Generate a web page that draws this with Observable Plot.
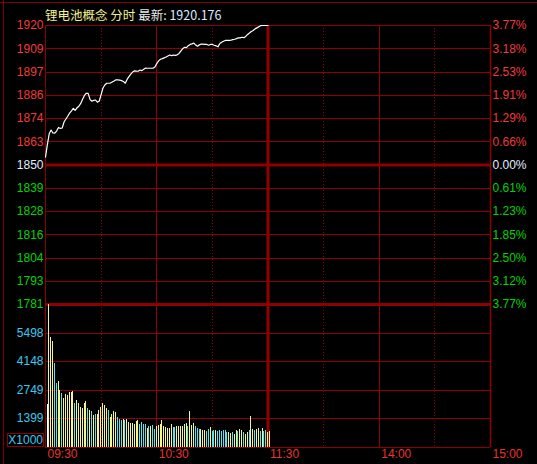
<!DOCTYPE html>
<html><head><meta charset="utf-8">
<script src="https://cdn.jsdelivr.net/npm/d3@7"></script>
<script src="https://cdn.jsdelivr.net/npm/@observablehq/plot@0.6"></script>
<style>
html,body{margin:0;padding:0;background:#000;}
#wrap{position:relative;width:537px;height:464px;background:#000;overflow:hidden;}
#wrap svg{position:absolute;left:0;top:0;}
#title{position:absolute;left:45px;top:8px;height:14px;line-height:14px;font-size:12.5px;font-family:"Noto Sans CJK SC","Noto Sans",sans-serif;white-space:nowrap;}
#unit{position:absolute;left:7px;top:433px;width:35px;height:12px;border:1px solid #900000;color:#3cc8f0;font:12px "Liberation Sans",Arial,sans-serif;line-height:12px;text-align:right;padding-right:0px;}
.edge{position:absolute;background:#800000;}
</style>
</head><body>
<div id="wrap"></div>
<script>
// ---- data ----
const titleName = "锂电池概念 分时";
const titleLastLabel = "最新:";
const lastPrice = "1920.176";
const prevClose = 1850.4;

// one price per minute, 09:30 .. 11:30
const priceValues = [
  1854.3,1860.6,1866.0,1867.9,1866.4,1866.3,1867.4,1869.2,1868.7,1868.9,
  1871.9,1873.4,1874.8,1876.4,1877.5,1878.7,1877.7,1879.0,1879.8,1881.2,
  1883.3,1885.2,1886.3,1886.2,1883.2,1882.3,1882.7,1882.9,1881.8,1882.4,
  1885.6,1888.9,1890.4,1891.3,1891.3,1891.4,1891.9,1892.4,1893.0,1893.0,
  1892.9,1892.6,1892.2,1891.3,1893.2,1894.6,1895.9,1896.9,1897.5,1897.4,
  1897.3,1897.9,1897.6,1898.3,1898.9,1898.8,1898.8,1898.8,1898.8,1899.4,
  1901.1,1902.5,1903.3,1903.6,1904.0,1904.4,1904.9,1905.4,1905.1,1905.4,
  1905.2,1905.5,1906.2,1907.4,1908.6,1909.3,1909.1,1910.1,1910.7,1911.0,
  1911.4,1910.4,1909.8,1910.5,1910.9,1910.9,1910.7,1910.7,1910.3,1910.7,
  1910.7,1910.3,1910.0,1909.5,1911.2,1911.8,1912.3,1912.7,1912.7,1912.7,
  1912.8,1913.1,1913.3,1913.6,1914.0,1914.0,1914.3,1914.1,1914.7,1915.7,
  1916.4,1917.2,1917.7,1918.5,1919.0,1919.5,1920.1,1920.176,1920.176,1920.176,1920.176
];

// volume per minute (units of 1000)
const volumeValues = [
  2080,6890,5320,5100,4070,3100,3190,2740,2610,2340,
  2560,2500,2660,2660,2710,2130,2260,2130,1950,1900,
  2120,2230,1890,1790,1740,1550,1600,1580,1790,1940,
  2145,2030,1890,1790,1450,1600,1740,1690,1450,1360,
  1310,1360,1310,1360,1210,1160,1140,1110,1260,1310,
  1110,1210,1110,1110,920,1020,1020,1065,870,1020,
  1065,1130,1310,1020,970,920,920,1110,970,970,
  1020,1030,1000,1020,1110,1160,1020,1740,1065,1145,
  1000,920,890,890,840,840,790,870,985,790,
  800,830,770,800,760,820,800,740,700,680,
  720,650,820,760,860,820,700,650,700,820,
  1500,850,800,880,900,780,935,790,820,730,775
];

// bar direction per minute: 0 = opening, U = up, D = down
const volumeDir = [
  "0UUUDDUUDU","UUUUUDUUUU","UUDUDUDUUU","UUUDUUUUDD","DUDUUUUUUU",
  "DDDDUDUDDU","UUUUUUUUDD","UUUUUUDUUU","DDDUUUDDUD","DUDDDDDDUU",
  "DUUDUUDUUD","UUDUUDUDDUU"
].join("").split("");

const priceLabels = ["1920","1909","1897","1886","1874","1863","1850","1839","1828","1816","1804","1793","1781"];
const pctLabels = ["3.77%","3.18%","2.53%","1.91%","1.29%","0.66%","0.00%","0.61%","1.23%","1.85%","2.50%","3.12%","3.77%"];
const volTicks = [1399, 2749, 4148, 5498];
const volTop = 6897;
const unitLabel = "X1000";
const timeLabels = ["09:30","10:30","11:30","14:00","15:00"];
const timeMinutes = [0, 60, 120, 180, 240];
const halfHourMinutes = [30, 90, 150, 210];

// ---- styles ----
const GRID = "#900000";
const RED = "#f03a3a";
const GREEN = "#00d400";
const NEUTRAL = "#e4ecff";
const CYAN = "#3cc8f0";
const TIMECOL = "#e8342c";
const barColor = {"0": "#ffffff", "U": "#f5f58c", "D": "#55e4f2"};
const FONT = "Liberation Sans, Arial, sans-serif";

const dev = d3.max(priceValues, v => Math.abs(v - prevClose));
const levels = d3.range(6, -7, -1).map((k, i) => ({
  k, price: prevClose + k * dev / 6, label: priceLabels[i], pct: pctLabels[i],
  color: k > 0 ? RED : k < 0 ? GREEN : NEUTRAL
}));
const series = priceValues.map((p, i) => ({m: i, p}));
const bars = volumeValues.map((v, i) => ({m: i, v, c: barColor[volumeDir[i]]}));
const times = timeLabels.map((t, i) => ({t, m: timeMinutes[i]}));

const common = {
  width: 537, height: 464, marginLeft: 45, marginRight: 47,
  style: {background: "transparent", overflow: "visible"},
  x: {domain: [0, 240], axis: null},
  color: {type: "identity"}
};

function verticals() {
  return [
    Plot.ruleX(halfHourMinutes, {stroke: GRID, strokeWidth: 1, strokeDasharray: "1,2", shapeRendering: "crispEdges"}),
    Plot.ruleX([0, 60, 180], {stroke: GRID, strokeWidth: 1, shapeRendering: "crispEdges"}),
    Plot.ruleX([240], {stroke: GRID, strokeWidth: 1.5}),
    Plot.ruleX([120], {stroke: GRID, strokeWidth: 3})
  ];
}

const pricePlot = Plot.plot({
  ...common,
  marginTop: 25, marginBottom: 160,
  y: {domain: [prevClose - dev, prevClose + dev], axis: null},
  marks: [
    Plot.ruleY(levels.filter(d => d.k !== 0 && d.k !== -6), {y: "price", stroke: GRID, strokeWidth: 1, shapeRendering: "crispEdges"}),
    ...verticals(),
    Plot.ruleY(levels.filter(d => d.k === 0 || d.k === -6), {y: "price", stroke: GRID, strokeWidth: 3}),
    Plot.line(series, {x: "m", y: "p", stroke: "#ffffff", strokeWidth: 1.2}),
    Plot.text(levels, {y: "price", text: "label", fill: "color", frameAnchor: "left", dx: -2, textAnchor: "end", fontSize: 12, fontFamily: FONT}),
    Plot.text(levels, {y: "price", text: "pct", fill: "color", frameAnchor: "right", dx: 2, textAnchor: "start", fontSize: 12, fontFamily: FONT})
  ]
});

const volPlot = Plot.plot({
  ...common,
  marginTop: 304, marginBottom: 17,
  y: {domain: [0, volTop], axis: null},
  marks: [
    Plot.ruleY(volTicks, {stroke: GRID, strokeWidth: 1, shapeRendering: "crispEdges"}),
    Plot.ruleY([0], {stroke: GRID, strokeWidth: 1, shapeRendering: "crispEdges"}),
    ...verticals(),
    Plot.ruleX(bars, {x: "m", y1: 0, y2: "v", stroke: "c", strokeWidth: 1, dx: 1.5, shapeRendering: "crispEdges"}),
    Plot.text(volTicks, {y: d => d, text: d => String(d), fill: CYAN, frameAnchor: "left", dx: -2, textAnchor: "end", fontSize: 12, fontFamily: FONT}),
    Plot.text(times, {x: "m", text: "t", fill: TIMECOL, frameAnchor: "bottom", dy: 10, dx: 2, textAnchor: "start", fontSize: 12, fontFamily: FONT})
  ]
});

const wrap = document.getElementById("wrap");
for (const [cls, st] of [["edge", "left:0;top:2px;width:537px;height:1px;"], ["edge", "left:3px;top:0;width:1px;height:464px;"]]) {
  const e = document.createElement("div"); e.className = cls; e.setAttribute("style", st); wrap.appendChild(e);
}
wrap.appendChild(pricePlot);
wrap.appendChild(volPlot);

const title = document.createElement("div");
title.id = "title";
title.innerHTML = `<span style="color:#f0f08c">${titleName}</span> <span style="color:#e8e8e8">${titleLastLabel}</span> <span style="color:#dceaff">${lastPrice}</span>`;
wrap.appendChild(title);

const unit = document.createElement("div");
unit.id = "unit";
unit.textContent = unitLabel;
wrap.appendChild(unit);
</script>
</body></html>
